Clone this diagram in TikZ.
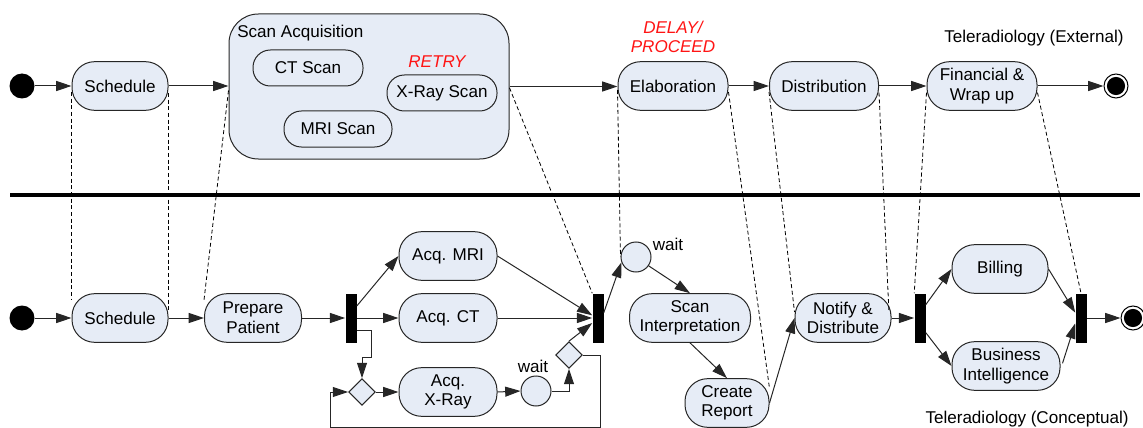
\documentclass[tikz,border=0pt]{standalone}
\usepackage{fontspec}
\setmainfont{Liberation Sans}
\usetikzlibrary{arrows.meta,shapes.geometric}
\definecolor{actfill}{RGB}{230,236,246}
\definecolor{lbl}{RGB}{255,20,20}
\begin{document}
\begin{tikzpicture}[x=0.75pt,y=-0.75pt,
  font=\fontsize{12.8}{14.7}\selectfont,
  act/.style={draw=black!85, line width=0.75pt, fill=actfill, rounded corners=17pt,
    minimum height=36.5pt, minimum width=72pt, inner sep=1pt, align=center},
  sact/.style={act, rounded corners=13pt, minimum height=27pt, minimum width=82.5pt},
  bar/.style={fill=black, minimum width=8.25pt, minimum height=36.75pt, inner sep=0pt},
  dec/.style={diamond, draw=black!85, line width=0.75pt, fill=actfill, minimum size=20pt, inner sep=0pt},
  waitc/.style={circle, draw=black!85, line width=0.75pt, fill=actfill, minimum size=22.5pt, inner sep=0pt},
  startc/.style={circle, fill=black, minimum size=18.75pt, inner sep=0pt},
  endc/.style={circle, draw=black, line width=0.75pt, minimum size=18pt, inner sep=0pt},
  arr/.style={-{Triangle[length=11.5pt,width=7.5pt]}, line width=0.75pt, draw=black!85},
  dl/.style={line width=0.6pt, dash pattern=on 3pt off 2pt},
  redlbl/.style={text=lbl, font=\fontsize{12.8}{14.7}\selectfont\itshape, align=center, inner sep=0pt},
  txt/.style={inner sep=0pt, align=center}
]
\useasboundingbox (0,0) rectangle (1143,428);

% ---------- top row ----------
\node[startc] (s1) at (22,86) {};
\node[act] (ts) at (120,86) {Schedule};
\node[draw=black!85, line width=0.75pt, fill=actfill, rounded corners=22pt,
      minimum width=210pt, minimum height=108.75pt, inner sep=0pt] (sa) at (369,86.5) {};
\node[txt, anchor=west] (salbl) at (237,33) {Scan Acquisition};
\node[sact] (ct) at (308,68) {CT Scan};
\node[sact, minimum width=81pt] (mri) at (338,129) {MRI Scan};
\node[sact] (xr) at (442,93) {X-Ray Scan};
\node[redlbl] (retry) at (437,62) {RETRY};
\node[act, minimum width=82.5pt] (el) at (673,86) {Elaboration};
\node[redlbl] (delay) at (673,37) {DELAY/\\PROCEED};
\node[act, minimum width=81.75pt] (dist) at (824,86) {Distribution};
\node[act, minimum width=82.5pt] (fin) at (982,86) {Financial \&\\Wrap up};
\node[endc] (e1) at (1116,86) {};
\fill (e1.center) circle (6.8pt);
\node[txt] (ext) at (1034,38) {Teleradiology (External)};

\draw[arr] (s1) -- (ts);
\draw[arr] (ts.east) -- (ts.east -| sa.west);
\draw[arr] (sa.east) -- (sa.east -| el.west);
\draw[arr] (el) -- (dist);
\draw[arr] (dist) -- (fin);
\draw[arr] (fin) -- (e1);

% ---------- divider ----------
\coordinate (dvl) at (10,195);
\coordinate (dvr) at (1140,195);
\draw[line width=3.2pt] (dvl) -- (dvr);

% ---------- bottom row ----------
\node[startc] (s2) at (22,318) {};
\node[act] (bs) at (120,318) {Schedule};
\node[act, minimum width=72.75pt] (prep) at (253,318) {Prepare\\Patient};
\node[bar] (b1) at (351,318) {};
\node[act, minimum width=73.5pt] (amri) at (448,256) {Acq. MRI};
\node[act, minimum width=73.5pt] (act) at (448,318) {Acq. CT};
\node[act, minimum width=73.5pt] (axr) at (448,392) {Acq.\\X-Ray};
\node[dec] (d1) at (362,392) {};
\node[waitc] (w1) at (536,391) {};
\node[txt] (w1l) at (533,366) {wait};
\node[dec] (d2) at (569,355) {};
\node[bar] (b2) at (598,318) {};
\node[waitc] (w2) at (636,257) {};
\node[txt] (w2l) at (668,244) {wait};
\node[act, minimum width=90.75pt] (si) at (690,318) {Scan\\Interpretation};
\node[act, minimum width=63pt] (cr) at (727,403) {Create\\Report};
\node[act] (nd) at (843,318) {Notify \&\\Distribute};
\node[bar] (b3) at (920,318) {};
\node[act] (bill) at (1000,269) {Billing};
\node[act, minimum width=81pt] (bi) at (1006,366) {Business\\Intelligence};
\node[bar] (b4) at (1081,318) {};
\node[endc] (e2) at (1133,318) {};
\fill (e2.center) circle (6.8pt);
\node[txt] (conc) at (1027,419) {Teleradiology (Conceptual)};

\draw[arr] (s2) -- (bs);
\draw[arr] (bs) -- (prep);
\draw[arr] (prep) -- (b1);
\draw[arr] ([yshift=9pt]b1.east) -- (amri.west);
\draw[arr] (b1.east) -- (act.west);
\draw[arr] ([yshift=-9pt]b1.east) -- ++(15,0) -- ++(0,27) -| (d1.north);
\draw[arr] (d1.east) -- (axr.west);
\draw[arr] (axr.east) -- (w1.west);
\draw[arr] (w1.east) -| (d2.south);
\draw[arr] (d2.north) -- ([yshift=-3.75pt]b2.west);
\draw[arr] (amri.east) -- ([yshift=2pt]b2.west);
\draw[arr] (act.east) -- (b2.west);
\draw[arr] (d2.east) -- ++(18,0) |- (330,427) |- (d1.west);
\draw[arr] ([yshift=4pt]b2.east) -- (w2.200);
\draw[arr] (w2.-35) -- (si.north);
\draw[arr] (si.south) -- (cr.north);
\draw[arr] (cr.east) -- (nd.west);
\draw[arr] (nd) -- (b3);
\draw[arr] ([yshift=10pt]b3.east) -- (bill.west);
\draw[arr] ([yshift=-11pt]b3.east) -- (bi.west);
\draw[arr] (bill.east) -- ([yshift=4pt]b4.west);
\draw[arr] ([xshift=1.5pt,yshift=2pt]bi.east) -- ([yshift=-4pt]b4.west);
\draw[arr] (b4) -- (e2);

% ---------- mapping (dashed) ----------
\draw[dl] ([yshift=-4.5pt]ts.west) -- ([yshift=13.5pt]bs.west);
\draw[dl] ([yshift=-5.25pt]ts.east) -- ([yshift=4.5pt]bs.east);
\draw[dl] ([yshift=-3pt]sa.west) -- ([yshift=13.5pt]prep.west);
\draw[dl] ([yshift=-1pt]sa.east) -- (b2.north west);
\draw[dl] ([yshift=-3pt]el.west) -- (w2.west);
\draw[dl] ([yshift=-4.5pt]el.east) -- ([yshift=11pt]cr.east);
\draw[dl] ([yshift=-4.5pt]dist.west) -- ([yshift=4.5pt]nd.west);
\draw[dl] ([yshift=-5pt]dist.east) -- ([xshift=-2pt,yshift=6pt]nd.east);
\draw[dl] ([yshift=-5pt]fin.west) -- (b3.north west);
\draw[dl] ([yshift=-5pt]fin.east) -- (b4.north);
\end{tikzpicture}
\end{document}
